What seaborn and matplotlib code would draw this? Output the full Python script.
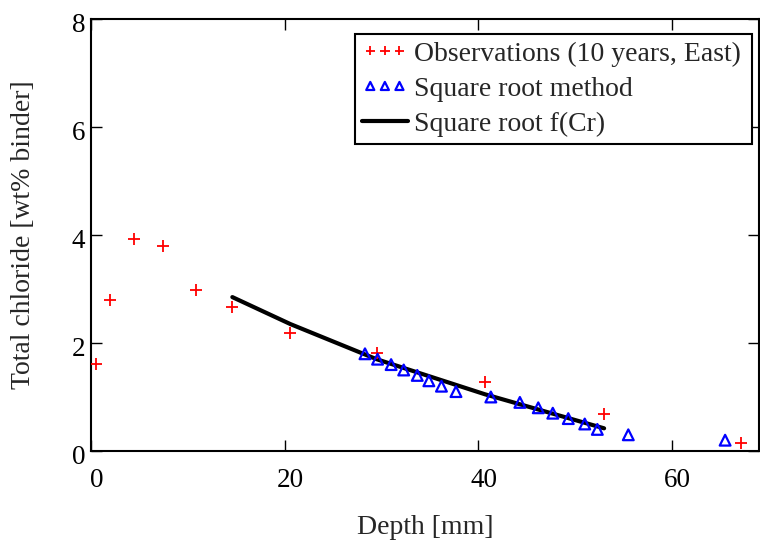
import numpy as np
import pandas as pd
import matplotlib
matplotlib.use("Agg")
import matplotlib.pyplot as plt
import matplotlib.transforms as mtransforms
import seaborn as sns

# ---- data ----
obs_depth = [0.5, 2.0, 4.4, 7.4, 10.8, 14.6, 20.6, 29.5, 40.7, 53.0, 67.1]
obs_chloride = [1.61, 2.79, 3.92, 3.79, 2.98, 2.66, 2.18, 1.81, 1.28, 0.68, 0.14]

sqrt_depth = [28.3, 29.6, 31.0, 32.3, 33.7, 34.9, 36.2, 37.7, 41.3, 44.3,
              46.2, 47.7, 49.3, 51.0, 52.3, 55.5, 65.5]
sqrt_chloride = [1.8, 1.7, 1.6, 1.5, 1.4, 1.3, 1.2, 1.1, 1.0, 0.9,
                 0.8, 0.7, 0.6, 0.5, 0.4, 0.3, 0.2]

fcr_depth = [14.6, 20.6, 29.5, 40.7, 53.0]
fcr_chloride = [2.85, 2.35, 1.70, 1.05, 0.42]

x_ticks = [0, 20, 40, 60]
y_ticks = [0, 2, 4, 6, 8]

labels = ["Observations (10 years, East)", "Square root method", "Square root f(Cr)"]

# ---- style ----
sns.set_style("ticks")
plt.rcParams["font.family"] = ["Liberation Serif", "DejaVu Serif"]
FS = 20
TFS = 19.5

fig = plt.figure(figsize=(7.6, 5.45), dpi=100)
ax = fig.add_axes([91 / 760, 1 - 451 / 545, 668 / 760, 432 / 545])

df_fcr = pd.DataFrame({"x": fcr_depth, "y": fcr_chloride})
df_obs = pd.DataFrame({"x": obs_depth, "y": obs_chloride})
df_sqr = pd.DataFrame({"x": sqrt_depth, "y": sqrt_chloride})

sns.lineplot(data=df_fcr, x="x", y="y", color="black", linewidth=3.0,
             sort=False, estimator=None, ax=ax, label=labels[2], zorder=2)
sns.scatterplot(data=df_obs, x="x", y="y", marker="+", color="red", s=80,
                linewidth=1.3, ax=ax, label=labels[0], zorder=3)
sns.scatterplot(data=df_sqr, x="x", y="y", marker="^", s=60,
                facecolor="none", edgecolor="blue", linewidth=1.6,
                ax=ax, label=labels[1], zorder=3)

ax.set_xlim(0, 69)
ax.set_ylim(0, 8)
ax.set_xticks(x_ticks)
ax.set_yticks(y_ticks)
ax.set_xlabel("Depth [mm]", fontsize=FS, labelpad=16)
ax.set_ylabel("Total chloride [wt% binder]", fontsize=FS, labelpad=26)

for side in ["top", "right", "left", "bottom"]:
    ax.spines[side].set_visible(True)
    ax.spines[side].set_linewidth(1.5)
    ax.spines[side].set_color("black")

ax.tick_params(axis="both", which="both", direction="in", length=8, width=1.0,
               top=True, right=True, labelsize=TFS, colors="black")
ax.tick_params(axis="x", pad=12)
ax.tick_params(axis="y", pad=4)

for lab in ax.get_xticklabels():
    lab.set_transform(lab.get_transform() +
                      mtransforms.ScaledTranslation(6 / 100, 0, fig.dpi_scale_trans))
for lab in ax.get_yticklabels():
    lab.set_transform(lab.get_transform() +
                      mtransforms.ScaledTranslation(0, -3 / 100, fig.dpi_scale_trans))

handles, labs = ax.get_legend_handles_labels()
order = [labs.index(l) for l in labels]
x0 = (355 - 91) / 668
x1 = (752 - 91) / 668
leg = ax.legend([handles[i] for i in order], [labs[i] for i in order],
                loc="upper right", bbox_to_anchor=(x0, 0.0, x1 - x0, 0.965),
                mode="expand", borderaxespad=0, frameon=True, fancybox=False,
                shadow=False, edgecolor="black", framealpha=1, fontsize=FS,
                scatterpoints=3, scatteryoffsets=[0.5], markerscale=0.75,
                handlelength=1.65, handletextpad=0.22, labelspacing=0.35,
                borderpad=0.25)
leg.get_frame().set_linewidth(1.5)

fig.savefig("out.png", dpi=100)
